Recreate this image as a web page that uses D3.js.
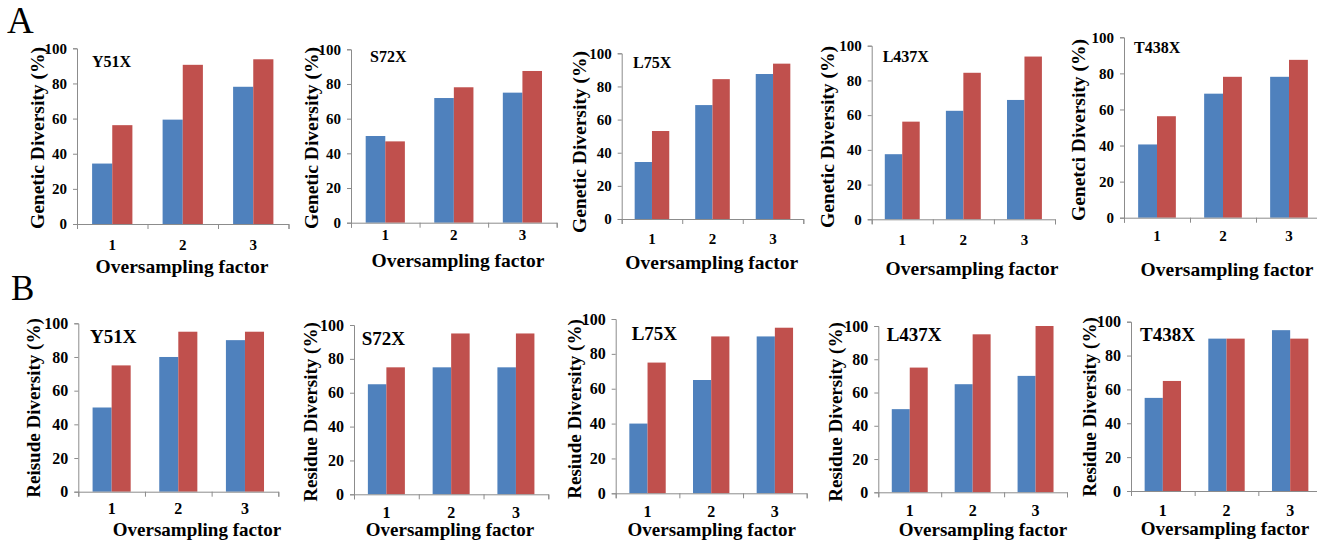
<!DOCTYPE html>
<html>
<head>
<meta charset="utf-8">
<script src="https://cdn.jsdelivr.net/npm/d3@7"></script>
<style>
  html, body { margin: 0; padding: 0; background: #fff; }
  svg { display: block; }
  text { font-family: "Liberation Serif", "Times New Roman", serif; fill: #000; }
</style>
</head>
<body>
<svg id="fig" width="1317" height="541"></svg>
<script>
// Oversampling factors on the x axis
const categories = ["1", "2", "3"];
const mutants = ["Y51X", "S72X", "L75X", "L437X", "T438X"];
const yTicks = [0, 20, 40, 60, 80, 100];

// Panel A: genetic diversity (%) — blue and red series per mutant
const geneticBlue = [
  [34.4, 59.4, 78.1],
  [50.0, 71.9, 75.0],
  [34.4, 68.75, 87.5],
  [37.5, 62.5, 68.75],
  [40.6, 68.75, 78.1]
];
const geneticRed = [
  [56.25, 90.6, 93.75],
  [46.9, 78.1, 87.5],
  [53.1, 84.4, 93.75],
  [56.25, 84.4, 93.75],
  [56.25, 78.1, 87.5]
];

// Panel B: residue diversity (%)
const residueBlue = [
  [50, 80, 90],
  [65, 75, 75],
  [40, 65, 90],
  [50, 65, 70],
  [55, 90, 95]
];
const residueRed = [
  [75, 95, 95],
  [75, 95, 95],
  [75, 90, 95],
  [75, 95, 100],
  [65, 90, 90]
];

const geneticYLabels = [
  "Genetic Diversity (%)", "Genetic Diversity (%)", "Genetic Diversity (%)",
  "Genetic Diversity (%)", "Genetci Diversity (%)"
];
const residueYLabels = [
  "Reisude Diversity (%)", "Residue Diversity (%)", "Resiude Diversity (%)",
  "Residue Diversity (%)", "Residue Diversity (%)"
];
const xTitle = "Oversampling factor";

const colors = { blue: "#4F81BD", red: "#C0504D" };

// Plot frames for each small chart (pixel geometry)
const layoutA = [
  { x0: 77,    x1: 288.5, y0: 224,   y1: 48.3, ylx: 37.5, yly: 138, tx: 92,    ty: 66.5, tickY: 245, xlx: 182,  xly: 272.5 },
  { x0: 351,   x1: 556.7, y0: 222.7, y1: 49.3, ylx: 311,  yly: 138, tx: 370,   ty: 62,   tickY: 235, xlx: 458,  xly: 266.5 },
  { x0: 621.7, x1: 803.3, y0: 219,   y1: 53.3, ylx: 579,  yly: 142, tx: 633,   ty: 68,   tickY: 239, xlx: 711.7,xly: 268.5 },
  { x0: 871.7, x1: 1055,  y0: 219.3, y1: 45.7, ylx: 826.7,yly: 137, tx: 882.7, ty: 62,   tickY: 240, xlx: 972,  xly: 274.5 },
  { x0: 1124,  x1: 1322,  y0: 217.7, y1: 37.3, ylx: 1078, yly: 130, tx: 1134,  ty: 53,   tickY: 236, xlx: 1227, xly: 276 }
];
const layoutB = [
  { x0: 78.3,  x1: 278.3, y0: 491.7, y1: 323.3, ylx: 33,   yly: 408, tx: 90,    ty: 343,   tickY: 508, xlx: 197,  xly: 536 },
  { x0: 354,   x1: 548.3, y0: 494.3, y1: 325,   ylx: 310,  yly: 412, tx: 361.7, ty: 344.5, tickY: 512.5, xlx: 450, xly: 536 },
  { x0: 615.7, x1: 806.7, y0: 493.3, y1: 319,   ylx: 574,  yly: 409, tx: 631.7, ty: 339.5, tickY: 511.5, xlx: 711.7, xly: 536 },
  { x0: 878.3, x1: 1067,  y0: 492.3, y1: 326,   ylx: 835,  yly: 412, tx: 886.7, ty: 340.5, tickY: 510.5, xlx: 983, xly: 536 },
  { x0: 1131,  x1: 1322,  y0: 491,   y1: 321.7, ylx: 1089, yly: 407, tx: 1140,  ty: 340.5, tickY: 510, xlx: 1225, xly: 535 }
];

const svg = d3.select("#fig");

function drawPanel(L, blue, red, yLabel, title, fonts) {
  const g = svg.append("g");

  const x = d3.scaleBand().domain(categories).range([L.x0, L.x1])
    .paddingInner(1.5 / 3.5).paddingOuter(0.75 / 3.5);
  const xs = d3.scaleBand().domain(["blue", "red"]).range([0, x.bandwidth()]);
  const y = d3.scaleLinear().domain([0, 100]).range([L.y0, L.y1]);
  const xEdge = d3.scaleLinear().domain([0, categories.length]).range([L.x0, L.x1]);

  const rows = categories.map((c, i) => ({ c, blue: blue[i], red: red[i] }));

  // bars
  ["blue", "red"].forEach(s => {
    g.selectAll(null).data(rows).join("rect")
      .attr("x", d => x(d.c) + xs(s))
      .attr("width", xs.bandwidth())
      .attr("y", d => y(d[s]))
      .attr("height", d => y(0) - y(d[s]))
      .attr("fill", colors[s]);
  });

  // y axis
  const ya = g.append("g").attr("transform", `translate(${L.x0},0)`)
    .call(d3.axisLeft(y).tickValues(yTicks).tickSize(4).tickPadding(6).tickFormat(d3.format("d")));
  ya.select(".domain").attr("stroke", "#8c8c8c");
  ya.selectAll(".tick line").attr("stroke", "#8c8c8c");
  ya.selectAll(".tick text")
    .style("font-family", '"Liberation Serif", "Times New Roman", serif')
    .style("font-weight", "bold").style("font-size", fonts.tick + "px").attr("fill", "#000");

  // x axis: boundary ticks, labels centred on categories
  const xa = g.append("g").attr("transform", `translate(0,${L.y0})`)
    .call(d3.axisBottom(xEdge).tickValues(d3.range(categories.length + 1)).tickSize(5).tickFormat(""));
  xa.select(".domain").attr("stroke", "#8c8c8c");
  xa.selectAll(".tick line").attr("stroke", "#8c8c8c");

  g.selectAll(null).data(categories).join("text")
    .attr("x", d => x(d) + x.bandwidth() / 2)
    .attr("y", L.tickY)
    .attr("dy", "0.35em")
    .attr("text-anchor", "middle")
    .style("font-weight", "bold").style("font-size", fonts.tick + "px")
    .text(d => d);

  // titles
  g.append("text")
    .attr("transform", `translate(${L.ylx},${L.yly}) rotate(-90)`)
    .attr("text-anchor", "middle")
    .attr("dy", "0.35em")
    .style("font-weight", "bold").style("font-size", fonts.label + "px")
    .text(yLabel);

  g.append("text")
    .attr("x", L.xlx).attr("y", L.xly)
    .attr("text-anchor", "middle")
    .style("font-weight", "bold").style("font-size", fonts.label + "px")
    .text(xTitle);

  g.append("text")
    .attr("x", L.tx).attr("y", L.ty)
    .style("font-weight", "bold").style("font-size", fonts.title + "px")
    .text(title);
}

mutants.forEach((m, i) => {
  drawPanel(layoutA[i], geneticBlue[i], geneticRed[i], geneticYLabels[i], m, { tick: 15, label: 19.5, title: 16 });
  drawPanel(layoutB[i], residueBlue[i], residueRed[i], residueYLabels[i], m, { tick: 16, label: 19, title: 19 });
});

// section letters
svg.append("text").attr("x", 7).attr("y", 33).style("font-size", "37px").text("A");
svg.append("text").attr("x", 11).attr("y", 300).style("font-size", "35px").text("B");
</script>
</body>
</html>
